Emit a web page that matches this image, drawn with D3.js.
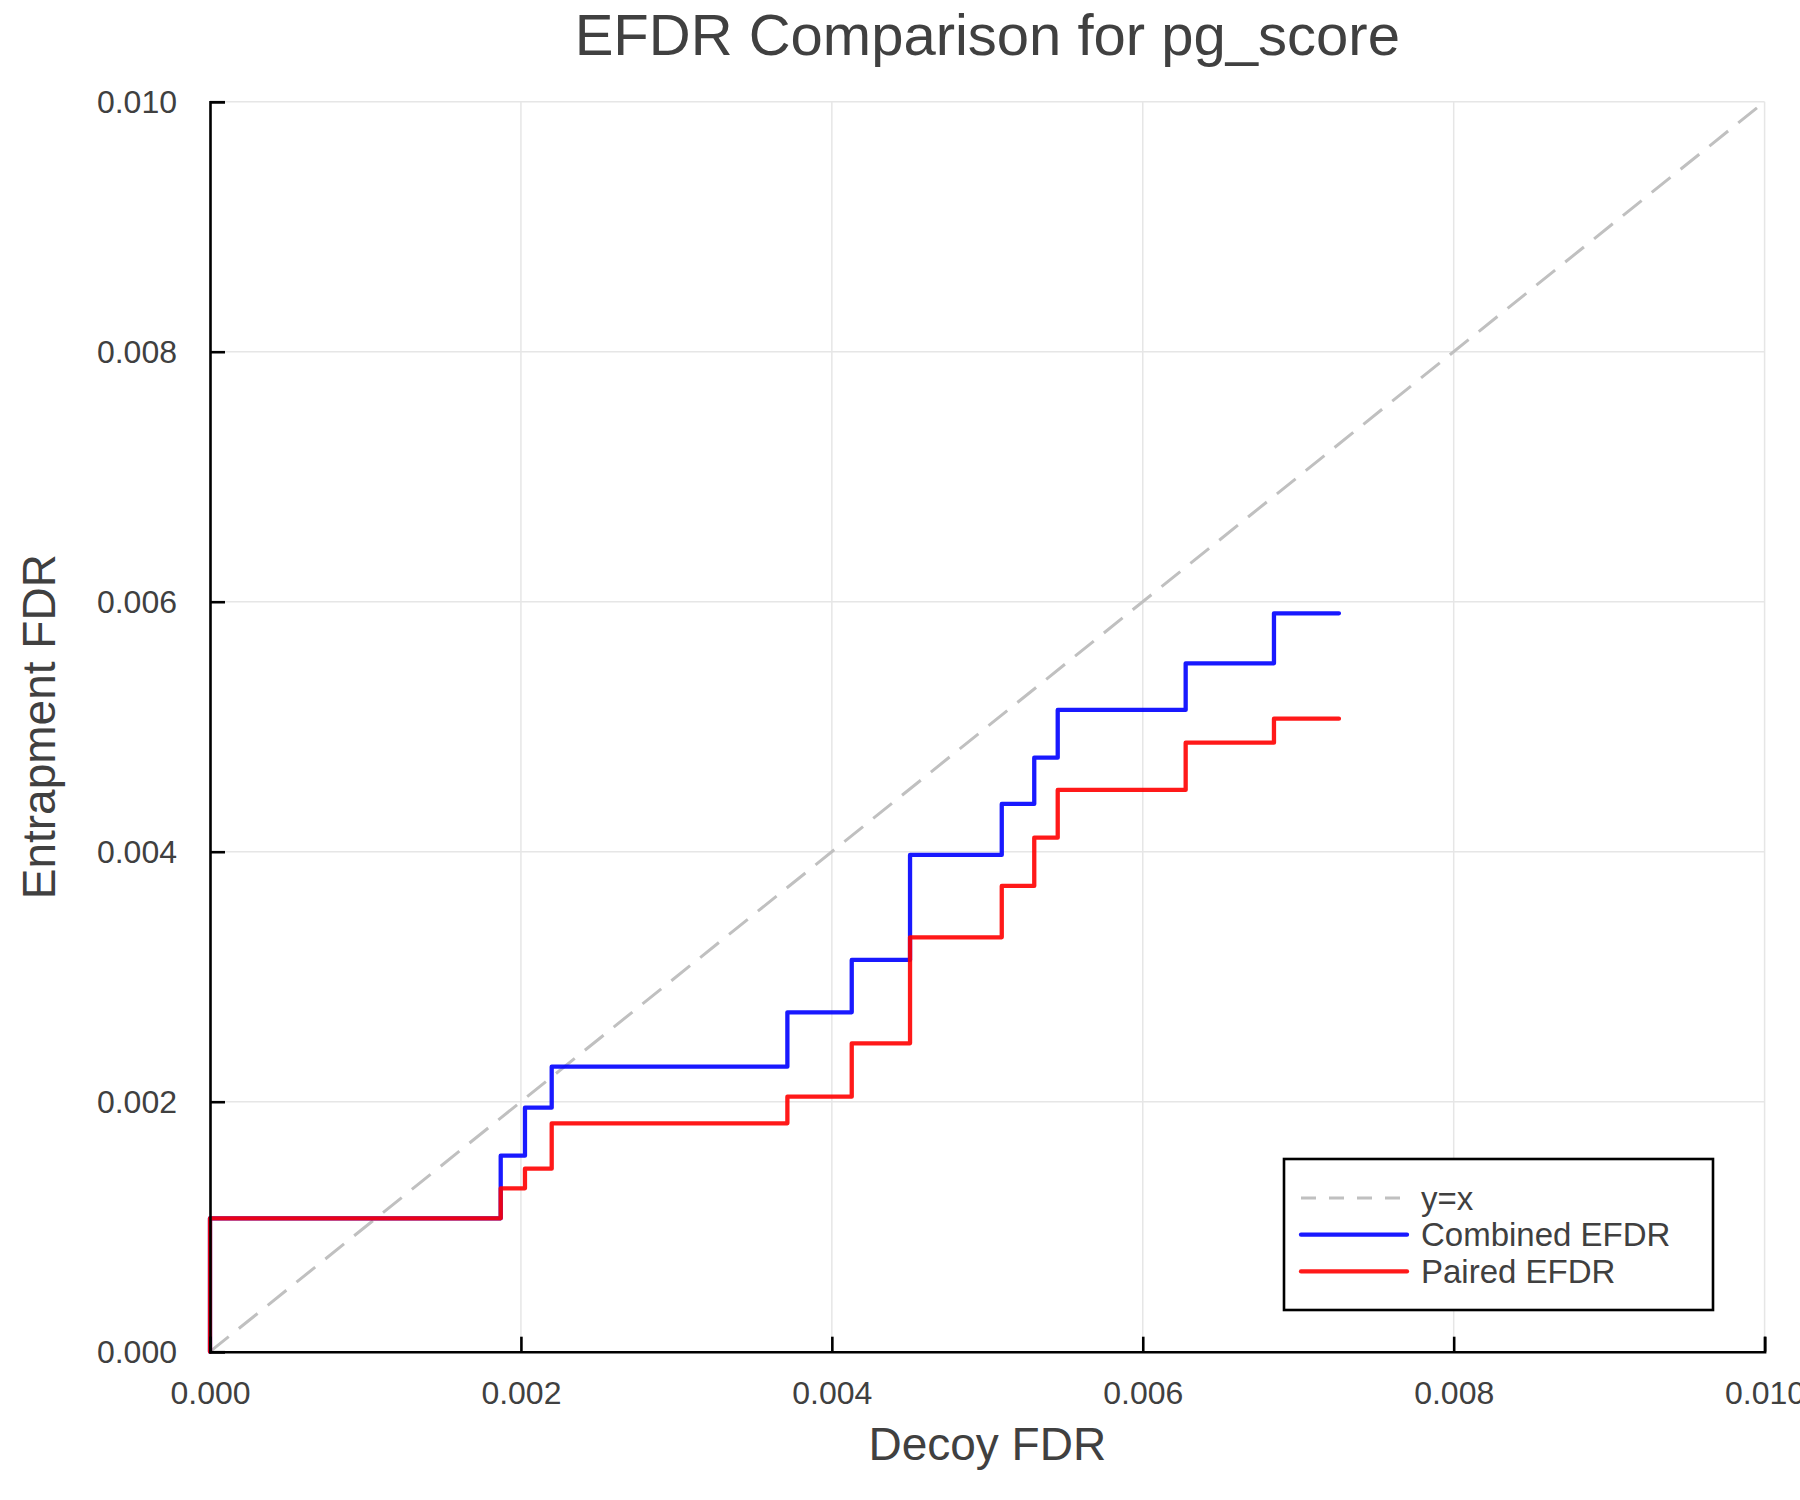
<!DOCTYPE html>
<html>
<head>
<meta charset="utf-8">
<script src="https://cdn.jsdelivr.net/npm/d3@7"></script>
<style>
  html, body { margin: 0; padding: 0; background: #ffffff; }
  svg { display: block; }
  text { font-family: "Liberation Sans", Arial, Helvetica, sans-serif; fill: #404040; }
</style>
</head>
<body>
<div id="chart"></div>
<script>
// Step curves (x = decoy FDR at each step)
const decoyFdr = [0, 0, 0.001870, 0.002026, 0.002198, 0.003714, 0.004128, 0.004503, 0.005093, 0.005302, 0.005453, 0.006276, 0.006844, 0.007262]
const combinedEfdr = [0, 0.001067, 0.001568, 0.001952, 0.002280, 0.002715, 0.003134, 0.003974, 0.004382, 0.004752, 0.005134, 0.005507, 0.005907, 0.005907]
const pairedEfdr = [0, 0.001067, 0.001307, 0.001464, 0.001827, 0.002040, 0.002467, 0.003315, 0.003726, 0.004112, 0.004494, 0.004872, 0.005064, 0.005064]

const xTicks = [0, 0.002, 0.004, 0.006, 0.008, 0.010]
const yTicks = [0, 0.002, 0.004, 0.006, 0.008, 0.010]
const diagonal = [0, 0.010]

const titleText = 'EFDR Comparison for pg_score'
const xLabel = 'Decoy FDR'
const yLabel = 'Entrapment FDR'
const legendLabels = ['y=x', 'Combined EFDR', 'Paired EFDR']

const width = 1800
const height = 1500
const margin = { top: 101.7, right: 35.4, bottom: 148.3, left: 210 }

const svg = d3.select('#chart')
  .append('svg')
  .attr('width', width)
  .attr('height', height)

const x = d3.scaleLinear().domain([0, 0.010]).range([margin.left, width - margin.right])
const y = d3.scaleLinear().domain([0, 0.010]).range([height - margin.bottom, margin.top])
const fmt = d3.format('.3f')

// Grid
const grid = svg.append('g').attr('class', 'grid')
grid.selectAll('line.vx')
  .data(xTicks)
  .join('line')
  .attr('x1', d => x(d)).attr('x2', d => x(d))
  .attr('y1', y(0)).attr('y2', y(0.010))
  .attr('stroke', '#e6e6e6')
  .attr('stroke-width', 1.5)
grid.selectAll('line.hy')
  .data(yTicks)
  .join('line')
  .attr('y1', d => y(d)).attr('y2', d => y(d))
  .attr('x1', x(0)).attr('x2', x(0.010))
  .attr('stroke', '#e6e6e6')
  .attr('stroke-width', 1.5)

// Series
const stepLine = (ys) => d3.line()
  .x((d, i) => x(decoyFdr[i]))
  .y(d => y(d))
  .curve(d3.curveStepAfter)(ys)

svg.append('path')
  .attr('d', d3.line().x(d => x(d)).y(d => y(d))(diagonal))
  .attr('fill', 'none')
  .attr('stroke', '#c0c0c0')
  .attr('stroke-width', 3)
  .attr('stroke-dasharray', '24,13')

const series = [
  { values: combinedEfdr, color: '#0000ff' },
  { values: pairedEfdr, color: '#ff0000' }
]

svg.selectAll('path.series')
  .data(series)
  .join('path')
  .attr('class', 'series')
  .attr('d', d => stepLine(d.values))
  .attr('fill', 'none')
  .attr('stroke', d => d.color)
  .attr('stroke-opacity', 0.9)
  .attr('stroke-width', 4.3)
  .attr('stroke-linejoin', 'round')
  .attr('stroke-linecap', 'round')

// Axes (ticks point inward, like the reference)
const xAxis = svg.append('g')
  .attr('transform', `translate(0,${y(0)})`)
  .call(d3.axisBottom(x).tickValues(xTicks).tickFormat(fmt).tickSize(-15).tickPadding(30))
const yAxis = svg.append('g')
  .attr('transform', `translate(${x(0)},0)`)
  .call(d3.axisLeft(y).tickValues(yTicks).tickFormat(fmt).tickSize(-15).tickPadding(33))

for (const ax of [xAxis, yAxis]) {
  ax.select('.domain').attr('stroke', '#000').attr('stroke-width', 2.6)
  ax.selectAll('.tick line').attr('stroke', '#000').attr('stroke-width', 2.6)
  ax.selectAll('.tick text')
    .attr('font-size', 32)
    .attr('font-family', '"Liberation Sans", Arial, sans-serif')
    .attr('fill', '#404040')
}
xAxis.selectAll('.tick text').attr('dy', '0.71em').attr('y', 30)
yAxis.selectAll('.tick text').attr('dy', '0.35em')

// Titles
svg.append('text')
  .attr('x', (x(0) + x(0.010)) / 2)
  .attr('y', 55)
  .attr('text-anchor', 'middle')
  .attr('font-size', 58)
  .text(titleText)

svg.append('text')
  .attr('x', (x(0) + x(0.010)) / 2)
  .attr('y', 1460)
  .attr('text-anchor', 'middle')
  .attr('font-size', 46)
  .text(xLabel)

svg.append('text')
  .attr('transform', `translate(55,${(y(0) + y(0.010)) / 2}) rotate(-90)`)
  .attr('text-anchor', 'middle')
  .attr('font-size', 46)
  .text(yLabel)

// Legend
const legend = svg.append('g').attr('class', 'legend')
legend.append('rect')
  .attr('x', 1284).attr('y', 1159)
  .attr('width', 429).attr('height', 151)
  .attr('fill', '#ffffff')
  .attr('stroke', '#000')
  .attr('stroke-width', 2.6)

const legendItems = [
  { label: legendLabels[0], color: '#c0c0c0', dash: '15,13', opacity: 1, w: 3 },
  { label: legendLabels[1], color: '#0000ff', dash: null, opacity: 0.9, w: 4.3 },
  { label: legendLabels[2], color: '#ff0000', dash: null, opacity: 0.9, w: 4.3 }
]
const rows = legend.selectAll('g.row')
  .data(legendItems)
  .join('g')
  .attr('class', 'row')
  .attr('transform', (d, i) => `translate(0,${1198 + i * 36.7})`)
rows.append('line')
  .attr('x1', 1301).attr('x2', 1407)
  .attr('stroke', d => d.color)
  .attr('stroke-opacity', d => d.opacity)
  .attr('stroke-width', d => d.w)
  .attr('stroke-dasharray', d => d.dash)
  .attr('stroke-linecap', d => d.dash ? 'butt' : 'round')
rows.append('text')
  .attr('x', 1421)
  .attr('dy', '0.35em')
  .attr('font-size', 33)
  .text(d => d.label)
</script>
</body>
</html>
